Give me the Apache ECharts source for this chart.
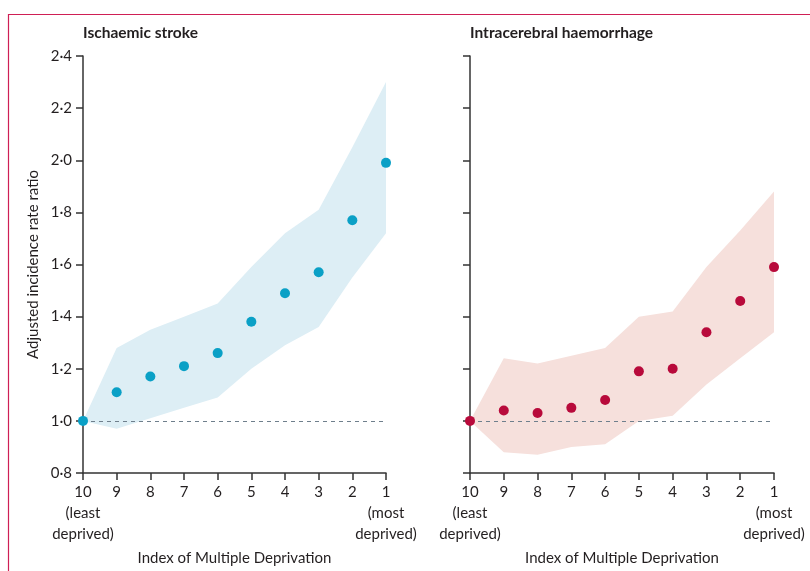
<!DOCTYPE html>
<html>
<head>
<meta charset="utf-8">
<script src="https://cdn.jsdelivr.net/npm/echarts@6/dist/echarts.min.js"></script>
<style>
  html, body { margin: 0; padding: 0; background: #fff; }
  #chart { width: 810px; height: 571px; }
</style>
</head>
<body>
<div id="chart"></div>
<script>
// IMD decile, least -> most deprived
var categories = ['10', '9', '8', '7', '6', '5', '4', '3', '2', '1'];

// Ischaemic stroke: adjusted IRR and 95% CI
var ischPoint = [1.00, 1.11, 1.17, 1.21, 1.26, 1.38, 1.49, 1.57, 1.77, 1.99];
var ischLow   = [1.00, 0.97, 1.01, 1.05, 1.09, 1.20, 1.29, 1.36, 1.55, 1.72];
var ischHigh  = [1.00, 1.28, 1.35, 1.40, 1.45, 1.59, 1.72, 1.81, 2.05, 2.30];

// Intracerebral haemorrhage
var ichPoint = [1.00, 1.04, 1.03, 1.05, 1.08, 1.19, 1.20, 1.34, 1.46, 1.59];
var ichLow   = [1.00, 0.88, 0.87, 0.90, 0.91, 1.00, 1.02, 1.14, 1.24, 1.34];
var ichHigh  = [1.00, 1.24, 1.22, 1.25, 1.28, 1.40, 1.42, 1.59, 1.73, 1.88];

// y axis ticks
var yMin = 0.8, yMax = 2.4, yStep = 0.2;

var FONT = 'Lato';
var TXT = '#231f20';

function diff(hi, lo) {
    return hi.map(function (v, i) { return +(v - lo[i]).toFixed(4); });
}

function xAxis(idx) {
    return {
        type: 'category',
        gridIndex: idx,
        data: categories,
        boundaryGap: false,
        name: 'Index of Multiple Deprivation',
        nameLocation: 'middle',
        nameGap: 78,
        nameTextStyle: {color: TXT, fontSize: 15, fontFamily: FONT},
        axisLine: {lineStyle: {color: '#333', width: 1.5}},
        axisTick: {alignWithLabel: true, length: 7, lineStyle: {color: '#333', width: 1.5}},
        axisLabel: {
            color: TXT, fontSize: 15, fontFamily: FONT, margin: 9, lineHeight: 21,
            interval: 0,
            formatter: function (v, i) {
                if (i === 0) return v + '\n(least\ndeprived)';
                if (i === categories.length - 1) return v + '\n(most\ndeprived)';
                return v;
            }
        },
        splitLine: {show: false}
    };
}

function yAxis(idx, showLabels) {
    return {
        type: 'value',
        gridIndex: idx,
        min: yMin,
        max: yMax,
        interval: yStep,
        name: showLabels ? 'Adjusted incidence rate ratio' : '',
        nameLocation: 'middle',
        nameGap: 42,
        nameTextStyle: {color: TXT, fontSize: 15, fontFamily: FONT},
        axisLine: {show: true, lineStyle: {color: '#333', width: 1.5}},
        axisTick: {show: true, length: 7, lineStyle: {color: '#333', width: 1.5}},
        axisLabel: {
            show: showLabels, color: TXT, fontSize: 15, fontFamily: FONT, margin: 11,
            formatter: function (v) { return v.toFixed(1).replace('.', '\u00b7'); }
        },
        splitLine: {show: false}
    };
}

function panel(idx, point, lo, hi, dotColor, bandColor) {
    return [
        {
            type: 'line', xAxisIndex: idx, yAxisIndex: idx,
            stack: 'ci' + idx, data: lo, showSymbol: false, silent: true,
            lineStyle: {opacity: 0}
        },
        {
            type: 'line', xAxisIndex: idx, yAxisIndex: idx,
            stack: 'ci' + idx, data: diff(hi, lo), showSymbol: false, silent: true,
            lineStyle: {opacity: 0},
            areaStyle: {color: bandColor, opacity: 1}
        },
        {
            type: 'scatter', xAxisIndex: idx, yAxisIndex: idx,
            data: point, symbolSize: 10, clip: false, z: 5,
            itemStyle: {color: dotColor, opacity: 1},
            markLine: {
                silent: true, symbol: 'none', label: {show: false},
                lineStyle: {color: '#6f7f8c', type: [4, 4], width: 1},
                data: [{yAxis: 1}]
            }
        }
    ];
}

var option = {
    backgroundColor: '#fff',
    animation: false,
    textStyle: {fontFamily: FONT},
    title: [
        {text: 'Ischaemic stroke', left: 83, top: 25, padding: 0,
         textStyle: {fontSize: 15.5, fontWeight: 'bold', color: TXT, fontFamily: FONT}},
        {text: 'Intracerebral haemorrhage', left: 470, top: 25, padding: 0,
         textStyle: {fontSize: 15.5, fontWeight: 'bold', color: TXT, fontFamily: FONT}}
    ],
    graphic: [{
        type: 'rect', silent: true,
        shape: {x: 8.5, y: 14.5, width: 900, height: 700},
        style: {fill: 'none', stroke: '#cf1f55', lineWidth: 1.2}
    }],
    grid: [
        {left: 83, top: 56, width: 303, height: 418},
        {left: 470, top: 56, width: 304, height: 418}
    ],
    xAxis: [xAxis(0), xAxis(1)],
    yAxis: [yAxis(0, true), yAxis(1, false)],
    series: [].concat(
        panel(0, ischPoint, ischLow, ischHigh, '#0aa0c6', '#ddeef5'),
        panel(1, ichPoint, ichLow, ichHigh, '#b80a3b', '#f6e0dc')
    )
};

var myChart = echarts.init(document.getElementById('chart'));
myChart.setOption(option);
</script>
</body>
</html>
